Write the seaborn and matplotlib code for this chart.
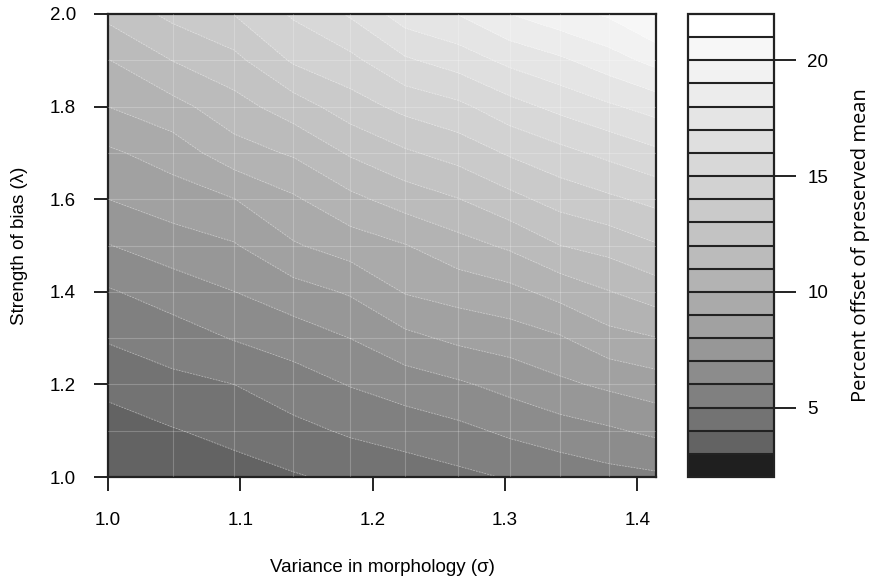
import numpy as np
import matplotlib
matplotlib.use("Agg")
import matplotlib.pyplot as plt
import seaborn as sns
from matplotlib.colors import ListedColormap, BoundaryNorm

# ---- data (grid of model runs) ----
sigma = [1.0, 1.0488, 1.0954, 1.1402, 1.1832, 1.2247, 1.2649, 1.3038, 1.3416, 1.3784, 1.4142]
lam = [1.0, 1.1, 1.2, 1.3, 1.4, 1.5, 1.6, 1.7, 1.8, 1.9, 2.0]

# percent offset, one list per sigma column (values from lambda = 1.0 up to 2.0)
z_s0 = [2.99, 3.58, 4.25, 5.10, 5.90, 6.96, 8.00, 8.83, 10.00, 10.96, 12.27]
z_s1 = [3.18, 3.94, 4.73, 5.53, 6.45, 7.54, 8.49, 9.45, 10.67, 12.02, 13.25]
z_s2 = [3.59, 4.30, 5.00, 6.06, 6.99, 7.92, 8.98, 10.58, 11.61, 12.71, 14.03]
z_s3 = [3.91, 4.72, 5.55, 6.46, 7.60, 8.90, 9.86, 11.12, 12.51, 14.14, 15.13]
z_s4 = [4.22, 5.14, 6.05, 7.01, 8.11, 9.47, 10.75, 12.12, 13.53, 14.74, 16.12]
z_s5 = [4.48, 5.44, 6.48, 7.74, 9.07, 9.96, 11.45, 12.86, 14.29, 15.86, 17.50]
z_s6 = [4.77, 5.75, 6.86, 8.22, 9.41, 10.62, 11.97, 13.40, 14.77, 16.46, 18.03]
z_s7 = [5.07, 6.19, 7.32, 8.49, 9.72, 11.17, 12.71, 14.12, 15.62, 17.26, 19.00]
z_s8 = [5.35, 6.56, 7.80, 8.90, 10.34, 11.99, 13.38, 14.70, 16.28, 17.82, 19.64]
z_s9 = [5.65, 6.86, 8.19, 9.65, 10.96, 12.36, 13.82, 15.25, 16.85, 18.55, 20.13]
z_s10 = [5.82, 7.22, 8.53, 9.97, 11.51, 12.92, 14.27, 15.79, 17.39, 19.31, 21.16]

levels = [2, 3, 4, 5, 6, 7, 8, 9, 10, 11, 12, 13, 14, 15, 16, 17, 18, 19, 20, 21, 22]
cbar_ticks = [5, 10, 15, 20]
xticks = [1.0, 1.1, 1.2, 1.3, 1.4]
yticks = [1.0, 1.2, 1.4, 1.6, 1.8, 2.0]

# ---- build the grid ----
Z = np.column_stack([z_s0, z_s1, z_s2, z_s3, z_s4, z_s5, z_s6, z_s7, z_s8, z_s9, z_s10])
X, Y = np.meshgrid(sigma, lam)

# ---- colours: black lowest band, grey ramp, white top band ----
g0, g1 = 0.39, 0.97
ramp = (g0 ** 2.2 + (g1 ** 2.2 - g0 ** 2.2) * np.linspace(0, 1, 18)) ** (1 / 2.2)
colors = [(0.12, 0.12, 0.12)] + [(v, v, v) for v in ramp] + [(1, 1, 1)]
cmap = ListedColormap(colors)
norm = BoundaryNorm(levels, cmap.N)

sns.set_style("white")
plt.rcParams['font.family'] = ['Liberation Sans', 'DejaVu Sans']
for k in ['text.color', 'axes.labelcolor', 'xtick.color', 'ytick.color']:
    plt.rcParams[k] = 'black'

W, H = 869, 577
fig = plt.figure(figsize=(W / 100, H / 100), dpi=100)
ax = fig.add_axes([108 / W, 100 / H, (656 - 108) / W, (477 - 14) / H])

cs = ax.contourf(X, Y, Z, levels=levels, cmap=cmap, norm=norm)
ax.contour(X, Y, Z, levels=levels, colors='white', linewidths=0.6, alpha=0.4,
           linestyles=[(0, (2, 1.5))])
for s in sigma[1:-1]:
    ax.axvline(s, color='white', lw=0.8, alpha=0.22, zorder=3)
for l in lam[1:-1]:
    ax.axhline(l, color='white', lw=0.8, alpha=0.22, zorder=3)

ax.set_xlim(1.0, 1.4142)
ax.set_ylim(1.0, 2.0)
ax.set_xticks(xticks)
ax.set_xticklabels([f"{t:.1f}" for t in xticks])
ax.set_yticks(yticks)
ax.set_yticklabels([f"{t:.1f}" for t in yticks])
for sp in ax.spines.values():
    sp.set_linewidth(1.6)
    sp.set_color('#222222')
    sp.set_visible(True)
ax.tick_params(axis='both', which='major', direction='out', length=10, width=1.4,
               color='#222222', labelsize=13.5, bottom=True, left=True)
ax.tick_params(axis='x', pad=15)
ax.tick_params(axis='y', pad=13)
ax.set_xlabel("Variance in morphology (σ)", fontsize=13.5, labelpad=22)
ax.set_ylabel("Strength of bias (λ)", fontsize=13.5, labelpad=16)

# ---- colour bar ----
cax = fig.add_axes([688 / W, 100 / H, (774 - 688) / W, (477 - 14) / H])
cb = fig.colorbar(cs, cax=cax, ticks=cbar_ticks, drawedges=True)
cb.minorticks_off()
cb.outline.set_linewidth(1.6)
cb.outline.set_edgecolor('#222222')
cb.dividers.set_linewidth(1.5)
cb.dividers.set_color('#222222')
cax.tick_params(axis='y', which='major', length=16, width=1.4, color='#222222',
                labelsize=13.5, pad=8)
cax.tick_params(axis='y', which='minor', length=0)
cb.set_label("Percent offset of preserved mean", family=['Open Sans', 'DejaVu Sans'],
             fontsize=14.5, labelpad=16)

fig.savefig("out.png", dpi=100)
